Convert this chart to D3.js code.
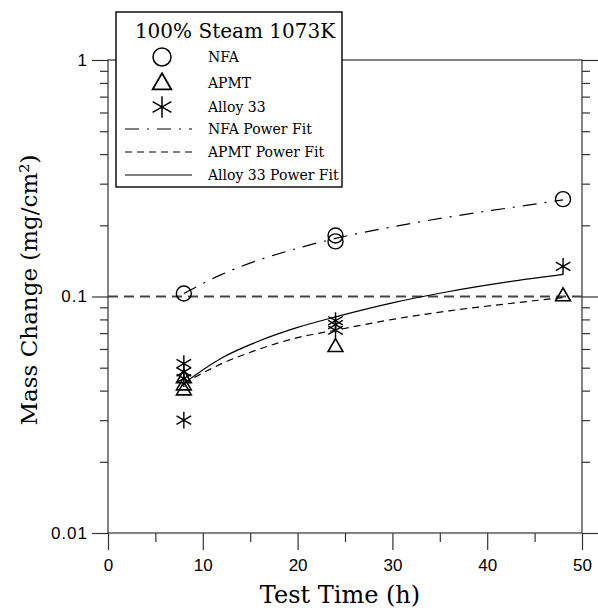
<!DOCTYPE html>
<html>
<head>
<meta charset="utf-8">
<script src="https://cdn.jsdelivr.net/npm/d3@7"></script>
<style>
  body { margin: 0; background: #fff; }
  .tick text { font-family: "Liberation Sans", Arial, sans-serif; font-size: 17px; fill: #000; }
  .tick line { stroke: #333; stroke-width: 1.2; }
  .axis-title { font-family: "DejaVu Serif", serif; fill: #000; }
  .legend-text { font-family: "DejaVu Serif", serif; font-size: 14px; fill: #000; }
</style>
</head>
<body>
<div id="chart"></div>
<script>
// Mass change of three alloys in 100% steam at 1073K, log scale, with power fits.
const width = 598;
const height = 612;
const plot = { left: 108, right: 582, top: 60, bottom: 533 };

// measured points [hours, mg/cm2]
const nfaPoints = [[8, 0.103], [24, 0.181], [24, 0.171], [48, 0.258]];
const apmtPoints = [[8, 0.045], [8, 0.042], [8, 0.040], [24, 0.061], [48, 0.100]];
const alloyPoints = [[8, 0.052], [8, 0.048], [8, 0.045], [8, 0.030],
                     [24, 0.079], [24, 0.076], [24, 0.072], [48, 0.134]];

// power fit curves at these times
const fitTimes = [8, 12, 16, 20, 24, 30, 36, 42, 48];
const nfaFit = [0.103, 0.124, 0.143, 0.160, 0.176, 0.197, 0.217, 0.236, 0.256];
const apmtFit = [0.043, 0.052, 0.060, 0.067, 0.072, 0.080, 0.087, 0.093, 0.099];
const alloyFit = [0.043, 0.055, 0.065, 0.074, 0.082, 0.094, 0.105, 0.115, 0.124];

const refLevel = 0.1;

const xTicks = [0, 10, 20, 30, 40, 50];
const xMinor = [5, 15, 25, 35, 45];
const yTicks = [0.01, 0.1, 1];
const yTickLabels = ["0.01", "0.1", "1"];
const yMinor = [0.02, 0.03, 0.04, 0.05, 0.06, 0.07, 0.08, 0.09,
                0.2, 0.3, 0.4, 0.5, 0.6, 0.7, 0.8, 0.9];

const svg = d3.select("#chart")
  .append("svg")
  .attr("width", width)
  .attr("height", height);

const x = d3.scaleLinear().domain([0, 50]).range([plot.left, plot.right]);
const y = d3.scaleLog().domain([0.01, 1]).range([plot.bottom, plot.top]);

// axes: major and minor ticks drawn separately because of the different lengths
function addAxis(axis, transform) {
  const g = svg.append("g").attr("transform", transform).call(axis);
  g.select(".domain").remove();
  return g;
}

addAxis(d3.axisLeft(y).tickValues(yTicks).tickSize(16).tickPadding(4)
  .tickFormat((d, i) => yTickLabels[i]), `translate(${plot.left},0)`)
  .selectAll("text").style("letter-spacing", "1px");
addAxis(d3.axisLeft(y).tickValues(yMinor).tickSize(8).tickFormat(""), `translate(${plot.left},0)`);
addAxis(d3.axisRight(y).tickValues(yTicks).tickSize(16).tickFormat(""), `translate(${plot.right},0)`);
addAxis(d3.axisRight(y).tickValues(yMinor).tickSize(8).tickFormat(""), `translate(${plot.right},0)`);
addAxis(d3.axisBottom(x).tickValues(xTicks).tickSize(17).tickPadding(9), `translate(0,${plot.bottom})`);
addAxis(d3.axisBottom(x).tickValues(xMinor).tickSize(9).tickFormat(""), `translate(0,${plot.bottom})`);

svg.append("rect")
  .attr("x", plot.left)
  .attr("y", plot.top)
  .attr("width", plot.right - plot.left)
  .attr("height", plot.bottom - plot.top)
  .attr("fill", "none")
  .attr("stroke", "#333")
  .attr("stroke-width", 1.2);

// dashed reference at 0.1
svg.append("line")
  .attr("x1", plot.left)
  .attr("x2", plot.right)
  .attr("y1", y(refLevel))
  .attr("y2", y(refLevel))
  .attr("stroke", "#444")
  .attr("stroke-width", 2)
  .attr("stroke-dasharray", "10,6");

const line = d3.line()
  .x(d => x(d[0]))
  .y(d => y(d[1]))
  .curve(d3.curveMonotoneX);

const fits = [
  { values: nfaFit, dash: "14,8,2,8" },
  { values: apmtFit, dash: "7,5" },
  { values: alloyFit, dash: null }
];

fits.forEach(f => {
  svg.append("path")
    .datum(fitTimes.map((t, i) => [t, f.values[i]]))
    .attr("d", line)
    .attr("fill", "none")
    .attr("stroke", "#000")
    .attr("stroke-width", 1.2)
    .attr("stroke-dasharray", f.dash);
});

// markers
svg.selectAll(".nfa")
  .data(nfaPoints)
  .join("circle")
  .attr("class", "nfa")
  .attr("cx", d => x(d[0]))
  .attr("cy", d => y(d[1]))
  .attr("r", 7.5)
  .attr("fill", "none")
  .attr("stroke", "#000")
  .attr("stroke-width", 1.4);

const triangle = d3.symbol().type(d3.symbolTriangle).size(95);
const asterisk = d3.symbol().type(d3.symbolAsterisk).size(200);

svg.selectAll(".apmt")
  .data(apmtPoints)
  .join("path")
  .attr("class", "apmt")
  .attr("transform", d => `translate(${x(d[0])},${y(d[1])})`)
  .attr("d", triangle)
  .attr("fill", "none")
  .attr("stroke", "#000")
  .attr("stroke-width", 1.6);

svg.selectAll(".alloy")
  .data(alloyPoints)
  .join("path")
  .attr("class", "alloy")
  .attr("transform", d => `translate(${x(d[0])},${y(d[1])})`)
  .attr("d", asterisk)
  .attr("fill", "none")
  .attr("stroke", "#000")
  .attr("stroke-width", 1.4);

// axis titles
svg.append("text")
  .attr("class", "axis-title")
  .attr("x", 340)
  .attr("y", 603)
  .attr("text-anchor", "middle")
  .attr("font-size", 24)
  .text("Test Time (h)");

svg.append("text")
  .attr("class", "axis-title")
  .attr("transform", `translate(37,290) rotate(-90)`)
  .attr("text-anchor", "middle")
  .attr("font-size", 23)
  .text("Mass Change (mg/cm²)");

// legend box covers the top frame
const legend = svg.append("g").attr("transform", "translate(116,12)");

legend.append("rect")
  .attr("width", 226)
  .attr("height", 175)
  .attr("fill", "#fff")
  .attr("stroke", "#000")
  .attr("stroke-width", 1.4);

legend.append("text")
  .attr("class", "axis-title")
  .attr("x", 119)
  .attr("y", 26)
  .attr("text-anchor", "middle")
  .attr("font-size", 20)
  .text("100% Steam 1073K");

const symX = 46;
const textX = 92;

legend.append("circle")
  .attr("cx", symX).attr("cy", 45).attr("r", 9)
  .attr("fill", "none").attr("stroke", "#000").attr("stroke-width", 1.5);
legend.append("path")
  .attr("transform", `translate(${symX},72)`)
  .attr("d", d3.symbol().type(d3.symbolTriangle).size(150)())
  .attr("fill", "none").attr("stroke", "#000").attr("stroke-width", 1.8);
legend.append("path")
  .attr("transform", `translate(${symX},95)`)
  .attr("d", d3.symbol().type(d3.symbolAsterisk).size(330)())
  .attr("fill", "none").attr("stroke", "#000").attr("stroke-width", 1.5);

const legendLabels = ["NFA", "APMT", "Alloy 33", "NFA Power Fit", "APMT Power Fit", "Alloy 33 Power Fit"];
const legendRows = [45, 71, 95, 117, 140, 163];

legend.selectAll(".legend-text")
  .data(legendLabels)
  .join("text")
  .attr("class", "legend-text")
  .attr("x", textX)
  .attr("y", (d, i) => legendRows[i] + 5)
  .text(d => d);

fits.forEach((f, i) => {
  legend.append("line")
    .attr("x1", 9)
    .attr("x2", 76)
    .attr("y1", legendRows[3 + i])
    .attr("y2", legendRows[3 + i])
    .attr("stroke", "#000")
    .attr("stroke-width", 1.2)
    .attr("stroke-dasharray", f.dash);
});
</script>
</body>
</html>
